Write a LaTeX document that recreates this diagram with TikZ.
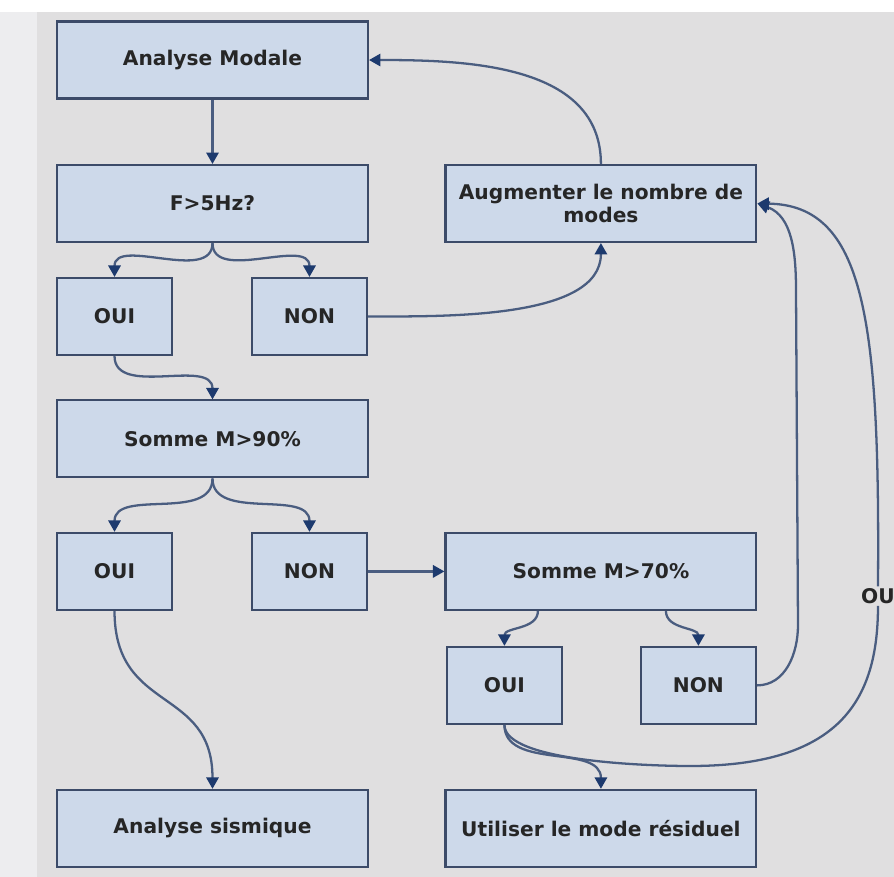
\documentclass[tikz,border=0pt]{standalone}
\usepackage{fontspec}
\setsansfont{DejaVu Sans}
\usetikzlibrary{positioning, arrows.meta, calc}

\definecolor{bggray}{HTML}{E0DFE0}
\definecolor{stripgray}{HTML}{EDEDEF}
\definecolor{boxfill}{HTML}{CDD9EA}
\definecolor{boxline}{HTML}{3C4B69}
\definecolor{flowline}{HTML}{4A5D80}
\definecolor{tipblue}{HTML}{1D3A6E}
\definecolor{labeltext}{HTML}{262626}

\begin{document}
\begin{tikzpicture}[x=0.02cm, y=-0.02cm, on grid,
	box/.style={draw=boxline, fill=boxfill, line width=1.2pt, minimum width=6.22cm, minimum height=1.54cm, inner sep=2pt,
		text=labeltext, align=center, font=\sffamily\bfseries\fontsize{11.5}{13.5}\selectfont},
	small/.style={box, minimum width=2.3cm},
	wire/.style={color=flowline, line width=1.3pt},
	flow/.style={wire, -{Triangle[length=6.5pt, width=7pt, color=tipblue]}}]
			\useasboundingbox (0,0) rectangle (894,877);
			\fill[stripgray] (0,0) rectangle (894,877);
			\fill[white] (0,0) rectangle (894,12);
			\fill[bggray] (37,12) rectangle (894,877);
			
			\node[box] (am) at (212.5,60) {Analyse Modale};
			\node[box, below=2.87cm of am] (f5) {F>5Hz?};
			\node[small, below left=2.26cm and 1.96cm of f5] (oui1) {OUI};
			\node[small, right=3.9cm of oui1] (non1) {NON};
			\node[box, right=7.77cm of f5] (aug) {Augmenter le nombre de\\modes};
			\node[box, below=4.71cm of f5] (s90) {Somme M>90\%};
			\node[small, below left=2.65cm and 1.96cm of s90] (oui2) {OUI};
			\node[small, right=3.9cm of oui2] (non2) {NON};
			\node[box, below=7.36cm of aug] (s70) {Somme M>70\%};
			\node[small, below left=2.28cm and 1.93cm of s70] (oui3) {OUI};
			\node[small, right=3.88cm of oui3] (non3) {NON};
			\node[box, below=7.79cm of s90] (as) {Analyse sismique};
			\node[box, right=7.77cm of as] (ur) {Utiliser le mode résiduel};
			\node[fill=bggray, inner sep=1pt, text=labeltext, font=\sffamily\bfseries\fontsize{11.5}{13.5}\selectfont] (ou) at (878,596) {OU};
			
			\path[flow]
			(am) edge (f5)
			(f5.south) edge[out=-90, in=90] (oui1.north)
			(f5.south) edge[out=-90, in=90] (non1.north)
			(non1.east) edge[out=0, in=-90, looseness=0.8] (aug.south)
			(aug.north) edge[out=90, in=0] (am.east)
			(oui1.south) edge[out=-90, in=90] (s90.north)
			(s90.south) edge[out=-90, in=90] (oui2.north)
			(s90.south) edge[out=-90, in=90] (non2.north)
			(non2) edge (s70)
			(oui2.south) edge[out=-90, in=90, looseness=1.3] (as.north)
			($(s70.south)+(-63,0)$) edge[out=-90, in=90] (oui3.north)
			($(s70.south)+(65,0)$) edge[out=-90, in=90] (non3.north)
			(oui3.south) edge[out=-90, in=90] (ur.north);
			
			\draw[flow] (non3.east) to[out=0, in=-90] (798,625) -- (796,290) to[out=90, in=-20] (aug.east);
			\draw[wire] (oui3.south) to[out=-90, in=180, looseness=0.5] (690,766) .. controls (840,766) and (878,700) .. (ou.south);
			\draw[flow] (ou.north) .. controls (880,320) and (865,205) .. (aug.east);
			
		\end{tikzpicture}
\end{document}
